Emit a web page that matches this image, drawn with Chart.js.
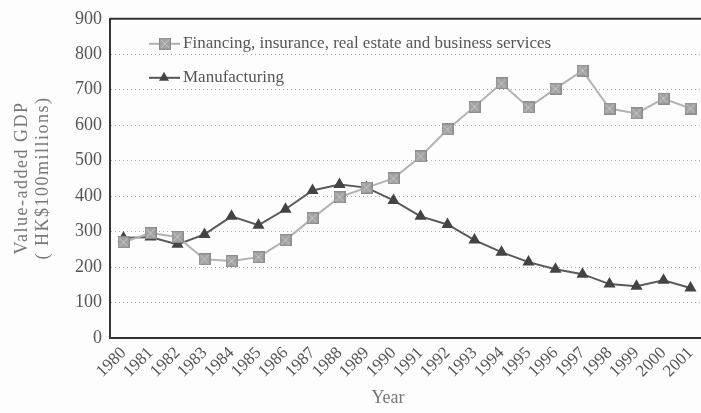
<!DOCTYPE html>
<html>
<head>
<meta charset="utf-8">
<script src="https://cdn.jsdelivr.net/npm/chart.js"></script>
<style>
  html, body { margin: 0; padding: 0; background: #fdfdfd; overflow: hidden; }
  #wrap { width: 712px; height: 413px; }
</style>
</head>
<body>
<div id="wrap"><canvas id="gdp" width="712" height="413"></canvas></div>
<script>
const YEARS = ["1980", "1981", "1982", "1983", "1984", "1985", "1986", "1987", "1988", "1989", "1990",
  "1991", "1992", "1993", "1994", "1995", "1996", "1997", "1998", "1999", "2000", "2001"];
const FINANCING = [270, 296, 285, 222, 217, 228, 276, 338, 397, 424, 450,
  512, 588, 652, 718, 650, 703, 754, 647, 633, 675, 647];
const MANUFACTURING = [282, 285, 264, 292, 343, 318, 363, 416, 433, 424, 388,
  343, 320, 276, 242, 214, 194, 180, 152, 146, 163, 141];
const Y_TICKS = [0, 100, 200, 300, 400, 500, 600, 700, 800, 900];
const Y_TITLE = ["Value-added GDP", "( HK$100millions)"];
const X_TITLE = "Year";

const SERIF = "'Liberation Serif', 'DejaVu Serif', serif";

// grey square marker with a faint cross hatch
function squareMarker() {
  const c = document.createElement("canvas");
  c.width = 12; c.height = 12;
  const g = c.getContext("2d");
  g.fillStyle = "#a2a2a2";
  g.fillRect(0, 0, 12, 12);
  g.strokeStyle = "#c8c8c8";
  g.lineWidth = 1;
  g.beginPath();
  g.moveTo(2, 2); g.lineTo(10, 10);
  g.moveTo(10, 2); g.lineTo(2, 10);
  g.stroke();
  g.strokeStyle = "#8c8c8c";
  g.strokeRect(0.5, 0.5, 11, 11);
  return c;
}
const SQUARE = squareMarker();

function drawTriangle(ctx, x, y, r, color) {
  ctx.fillStyle = color;
  ctx.beginPath();
  ctx.moveTo(x, y - r);
  ctx.lineTo(x + r, y + r * 0.8);
  ctx.lineTo(x - r, y + r * 0.8);
  ctx.closePath();
  ctx.fill();
}

// legend inside the plot, top border line and the two axis titles
const decorations = {
  id: "decorations",
  afterDraw(chart) {
    const { ctx, chartArea } = chart;
    ctx.save();
    ctx.strokeStyle = "#333";
    ctx.lineWidth = 2;
    ctx.beginPath();
    ctx.moveTo(chartArea.left, chartArea.top);
    ctx.lineTo(chartArea.right, chartArea.top);
    ctx.stroke();

    const x0 = chartArea.left + 39;
    const rows = [
      { y: chartArea.top + 25, label: chart.data.datasets[0].label, color: "#b0b0b0", mark: "square" },
      { y: chartArea.top + 59, label: chart.data.datasets[1].label, color: "#555", mark: "tri" }
    ];
    ctx.font = "17px " + SERIF;
    ctx.textBaseline = "middle";
    rows.forEach(r => {
      ctx.strokeStyle = r.color;
      ctx.lineWidth = 2;
      ctx.beginPath();
      ctx.moveTo(x0, r.y);
      ctx.lineTo(x0 + 31, r.y);
      ctx.stroke();
      if (r.mark === "square") ctx.drawImage(SQUARE, x0 + 10, r.y - 6);
      else drawTriangle(ctx, x0 + 15, r.y - 1, 5, "#444");
      ctx.fillStyle = "#555";
      ctx.fillText(r.label, x0 + 34, r.y);
    });

    // axis titles
    ctx.fillStyle = "#777";
    ctx.textAlign = "center";
    ctx.font = "18px " + SERIF;
    ctx.fillText(X_TITLE, 388, 398);

    ctx.letterSpacing = "1.5px";
    ctx.translate(0, 178);
    ctx.rotate(-Math.PI / 2);
    ctx.fillText(Y_TITLE[0], 0, 22);
    ctx.fillText(Y_TITLE[1], 0, 43);
    ctx.restore();
  }
};

new Chart(document.getElementById("gdp"), {
  type: "line",
  data: {
    labels: YEARS,
    datasets: [
      {
        label: "Financing, insurance, real estate and business services",
        data: FINANCING,
        borderColor: "#b3b3b3",
        borderWidth: 2,
        pointStyle: SQUARE,
        pointRadius: 6,
        tension: 0
      },
      {
        label: "Manufacturing",
        data: MANUFACTURING,
        borderColor: "#5a5a5a",
        borderWidth: 2,
        pointStyle: "triangle",
        pointRadius: 5,
        pointBackgroundColor: "#444",
        pointBorderColor: "#444",
        tension: 0
      }
    ]
  },
  options: {
    responsive: false,
    animation: false,
    layout: { padding: { top: 17, right: 6, left: 0, bottom: 0 } },
    plugins: { legend: { display: false }, tooltip: { enabled: false } },
    scales: {
      x: {
        offset: true,
        grid: { display: false, drawTicks: false },
        border: { color: "#333", width: 2 },
        ticks: {
          color: "#555",
          font: { family: SERIF, size: 17 },
          minRotation: 45,
          maxRotation: 45,
          padding: 5,
          autoSkip: false
        },
        afterFit(scale) { scale.height = 75; }
      },
      y: {
        min: 0,
        max: 900,
        afterBuildTicks(scale) { scale.ticks = Y_TICKS.map(v => ({ value: v })); },
        grid: {
          color: ctx => (ctx.tick && (ctx.tick.value === 0 || ctx.tick.value === 900)) ? "rgba(0,0,0,0)" : "#aaa",
          drawTicks: false,
          lineWidth: 1
        },
        border: { color: "#333", width: 2, dash: [1, 3] },
        ticks: {
          color: "#555",
          font: { family: SERIF, size: 18 },
          padding: 8
        },
        afterFit(scale) { scale.width = 110; }
      }
    }
  },
  plugins: [decorations]
});
</script>
</body>
</html>
